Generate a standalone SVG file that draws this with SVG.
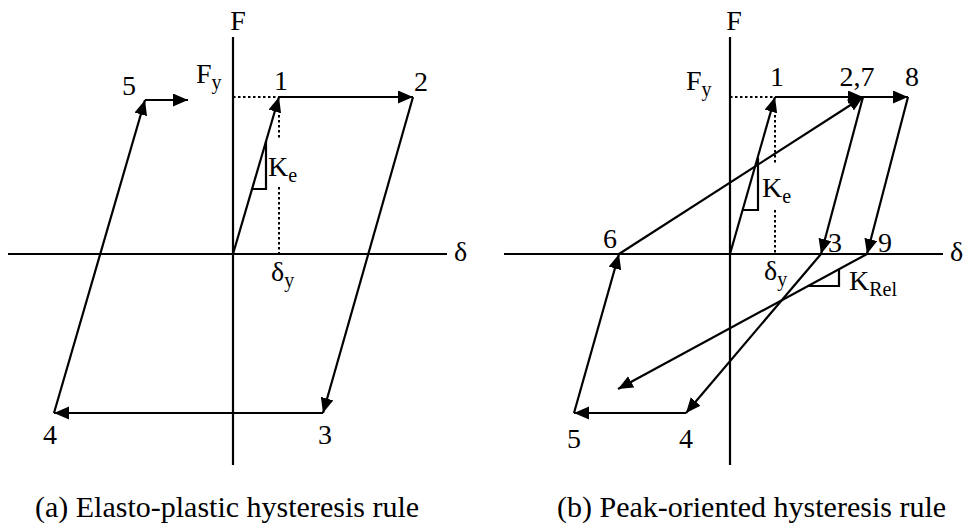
<svg xmlns="http://www.w3.org/2000/svg" width="964" height="527" viewBox="0 0 964 527">
<style>
.ax{stroke:#000;stroke-width:2.2;fill:none}
.ln{stroke:#000;stroke-width:2.2;fill:none}
.ar{stroke:#000;stroke-width:2.2;fill:none;marker-end:url(#ah)}
.dt{stroke:#000;stroke-width:2;fill:none;stroke-dasharray:2.5 2.5}
text{font-family:"Liberation Serif","Times New Roman",serif;fill:#000;font-size:28px}
.sub{font-size:20px}
.cap{font-size:30px}
</style>
<defs>
<marker id="ah" markerUnits="userSpaceOnUse" markerWidth="16" markerHeight="14" refX="15" refY="6.5" orient="auto">
<path d="M0,0 L15,6.5 L0,13 z" fill="#000"/>
</marker>
</defs>
<rect width="964" height="527" fill="#fff"/>

<!-- Panel (a) -->
<g id="axes-a">
<line class="ax" x1="8" y1="254" x2="447" y2="254"/>
<line class="ax" x1="233" y1="37" x2="233" y2="465"/>
<text x="238" y="30" text-anchor="middle">F</text>
<text x="454" y="261">δ</text>
<text x="196" y="83">F<tspan class="sub" dy="6">y</tspan></text>
<text x="271" y="281">δ<tspan class="sub" dy="6">y</tspan></text>
</g>
<g id="guides-a">
<line class="dt" x1="233" y1="97" x2="279" y2="97"/>
<line class="dt" x1="279" y1="110" x2="279" y2="139"/>
<line class="dt" x1="279" y1="187" x2="279" y2="254"/>
<polyline class="ln" points="266,141 266,189 252,189"/>
<text x="268" y="176">K<tspan class="sub" dy="6">e</tspan></text>
</g>
<g id="connectors-a">
<line class="ar" x1="233" y1="254" x2="279" y2="97"/>
<line class="ar" x1="279" y1="97" x2="413" y2="97"/>
<line class="ar" x1="413" y1="97" x2="323" y2="413"/>
<line class="ar" x1="323" y1="413" x2="54" y2="413"/>
<line class="ar" x1="54" y1="413" x2="145" y2="100"/>
<line class="ar" x1="145" y1="100" x2="188" y2="100"/>
</g>
<g id="labels-a">
<text x="281" y="90" text-anchor="middle">1</text>
<text x="421" y="91" text-anchor="middle">2</text>
<text x="325" y="444" text-anchor="middle">3</text>
<text x="50" y="444" text-anchor="middle">4</text>
<text x="129" y="95" text-anchor="middle">5</text>
</g>
<text class="cap" x="35" y="517">(a) Elasto-plastic hysteresis rule</text>

<!-- Panel (b) -->
<g id="axes-b">
<line class="ax" x1="504" y1="254" x2="943" y2="254"/>
<line class="ax" x1="730" y1="37" x2="730" y2="465"/>
<text x="734" y="30" text-anchor="middle">F</text>
<text x="950" y="261">δ</text>
<text x="686" y="90">F<tspan class="sub" dy="6">y</tspan></text>
<text x="764" y="280">δ<tspan class="sub" dy="6">y</tspan></text>
</g>
<g id="guides-b">
<line class="dt" x1="730" y1="97" x2="775" y2="97"/>
<line class="dt" x1="775" y1="110" x2="775" y2="165"/>
<line class="dt" x1="775" y1="210" x2="775" y2="254"/>
<polyline class="ln" points="758,158 758,210 743,210"/>
<text x="762" y="197">K<tspan class="sub" dy="6">e</tspan></text>
<polyline class="ln" points="808,286 839,286 839,269"/>
<text x="849" y="290">K<tspan class="sub" dy="6">Rel</tspan></text>
</g>
<g id="connectors-b">
<line class="ar" x1="730" y1="254" x2="775" y2="97"/>
<line class="ar" x1="775" y1="97" x2="863" y2="97"/>
<line class="ar" x1="863" y1="97" x2="908" y2="97"/>
<line class="ar" x1="863" y1="97" x2="821" y2="254"/>
<line class="ar" x1="908" y1="97" x2="867" y2="254"/>
<line class="ar" x1="821" y1="254" x2="686" y2="413"/>
<line class="ar" x1="686" y1="413" x2="574" y2="413"/>
<line class="ar" x1="574" y1="413" x2="619" y2="254"/>
<line class="ar" x1="619" y1="254" x2="863" y2="97"/>
<line class="ar" x1="867" y1="254" x2="618" y2="389"/>
</g>
<g id="labels-b">
<text x="777" y="86" text-anchor="middle">1</text>
<text x="857" y="86" text-anchor="middle">2,7</text>
<text x="912" y="86" text-anchor="middle">8</text>
<text x="835" y="252" text-anchor="middle">3</text>
<text x="885" y="252" text-anchor="middle">9</text>
<text x="610" y="248" text-anchor="middle">6</text>
<text x="574" y="448" text-anchor="middle">5</text>
<text x="686" y="448" text-anchor="middle">4</text>
</g>
<text class="cap" x="557" y="517">(b) Peak-oriented hysteresis rule</text>
</svg>
